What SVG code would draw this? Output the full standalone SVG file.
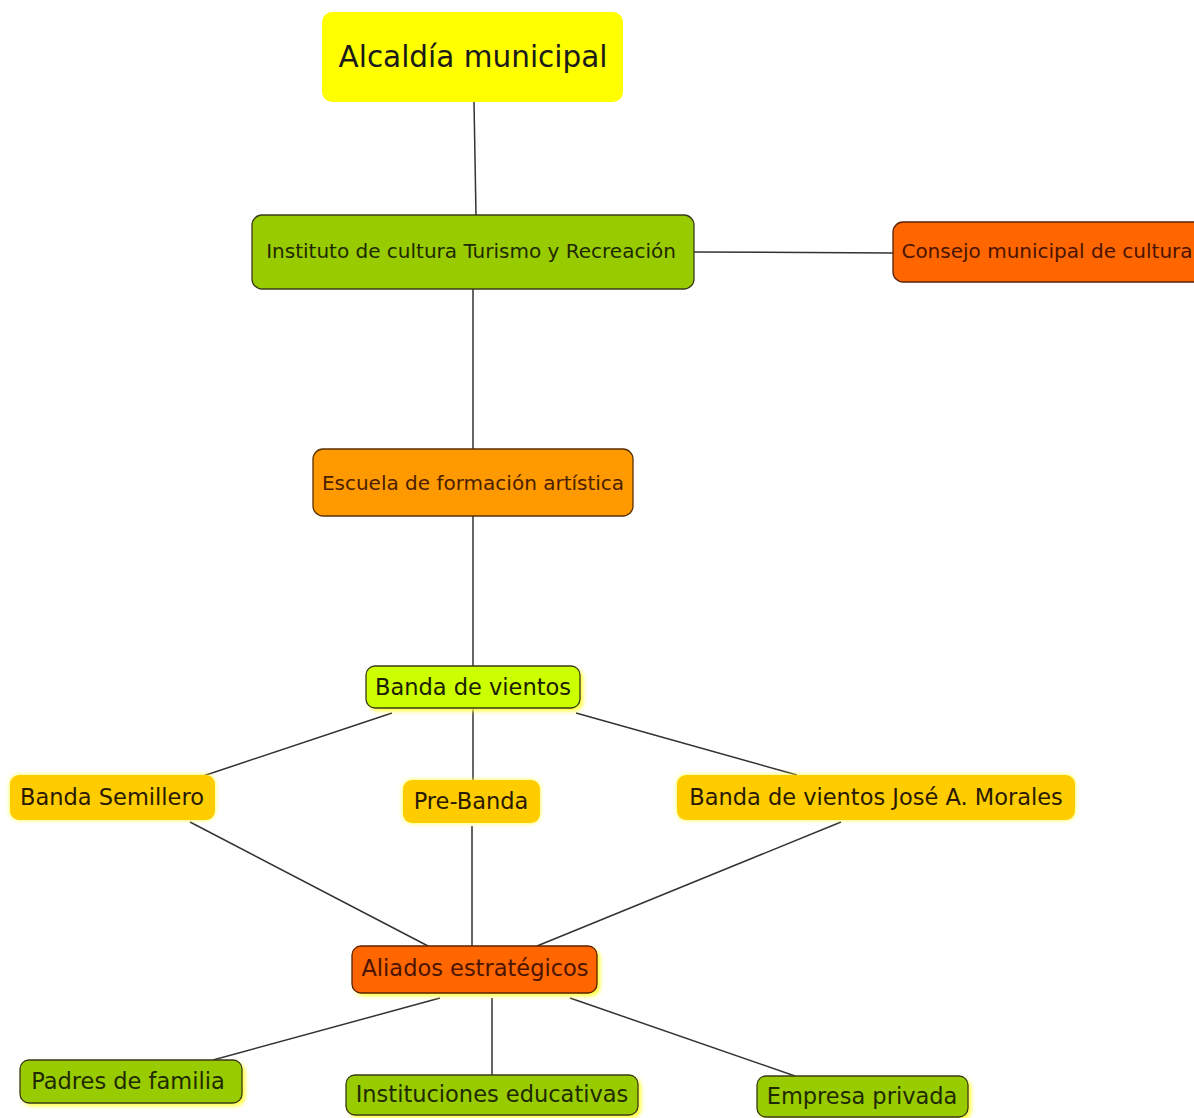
<svg xmlns="http://www.w3.org/2000/svg" width="1194" height="1118" viewBox="0 0 1194 1118">
<defs>
<filter id="glow" x="-10%" y="-20%" width="125%" height="150%">
<feGaussianBlur stdDeviation="2"/>
</filter>
<style>
text{font-family:"DejaVu Sans","Liberation Sans",sans-serif;text-anchor:middle;dominant-baseline:central}
.edge{stroke:#333;stroke-width:1.5;fill:none}
.b{stroke:#3a3a1a;stroke-width:1.3}
.sh{fill:#ffff33;filter:url(#glow)}
.m{font-size:20px}
.s{font-size:22.5px}
</style>
</defs>
<rect width="1194" height="1118" fill="#fff"/>
<g id="connectors">
<line class="edge" x1="474" y1="102" x2="476" y2="215"/>
<line class="edge" x1="694" y1="252" x2="893" y2="253"/>
<line class="edge" x1="473" y1="289" x2="473" y2="449"/>
<line class="edge" x1="473" y1="516" x2="473" y2="666"/>
<line class="edge" x1="392" y1="713" x2="203" y2="776"/>
<line class="edge" x1="473" y1="708" x2="473" y2="780"/>
<line class="edge" x1="576" y1="713" x2="797" y2="775"/>
<line class="edge" x1="190" y1="822" x2="428" y2="946"/>
<line class="edge" x1="472" y1="826" x2="472" y2="946"/>
<line class="edge" x1="841" y1="822" x2="537" y2="946"/>
<line class="edge" x1="440" y1="998" x2="213" y2="1060"/>
<line class="edge" x1="492" y1="998" x2="492" y2="1075"/>
<line class="edge" x1="570" y1="998" x2="795" y2="1076"/>
</g>
<g id="alcaldia">
<rect x="322" y="12" width="301" height="90" rx="10" fill="#ffff00"/>
<text x="473" y="57" font-size="29.5" fill="#1a1a1a">Alcaldía municipal</text>
</g>
<g id="instituto">
<rect x="252" y="215" width="442" height="74" rx="10" fill="#99cc00" class="b"/>
<text x="471" y="251" class="m" fill="#1f2a00">Instituto de cultura Turismo y Recreación</text>
</g>
<g id="consejo">
<rect x="893" y="222" width="320" height="60" rx="10" fill="#ff6600" stroke="#5a2000" stroke-width="1.3"/>
<text x="1047" y="251" class="m" fill="#4a1400">Consejo municipal de cultura</text>
</g>
<g id="escuela">
<rect x="313" y="449" width="320" height="67" rx="10" fill="#ff9900" stroke="#5a3000" stroke-width="1.3"/>
<text x="473" y="483" class="m" fill="#4a2000">Escuela de formación artística</text>
</g>
<g id="banda">
<rect x="369" y="669" width="214" height="42" rx="9" class="sh"/>
<rect x="366" y="666" width="214" height="42" rx="9" fill="#ccff00" class="b"/>
<text x="473" y="687" class="s" fill="#1a2000">Banda de vientos</text>
</g>
<g id="semillero">
<rect x="10" y="775" width="205" height="45" rx="9" class="sh"/>
<rect x="10" y="775" width="205" height="45" rx="9" fill="#ffcc00"/>
<text x="112" y="797" class="s" fill="#2a1a00">Banda Semillero</text>
</g>
<g id="prebanda">
<rect x="403" y="780" width="137" height="43" rx="9" class="sh"/>
<rect x="403" y="780" width="137" height="43" rx="9" fill="#ffcc00"/>
<text x="471" y="801" class="s" fill="#2a1a00">Pre-Banda</text>
</g>
<g id="morales">
<rect x="677" y="775" width="398" height="45" rx="9" class="sh"/>
<rect x="677" y="775" width="398" height="45" rx="9" fill="#ffcc00"/>
<text x="876" y="797" class="s" fill="#2a1a00">Banda de vientos José A. Morales</text>
</g>
<g id="aliados">
<rect x="355" y="949" width="245" height="47" rx="9" class="sh"/>
<rect x="352" y="946" width="245" height="47" rx="9" fill="#ff6600" stroke="#5a2000" stroke-width="1.3"/>
<text x="475" y="968" class="s" fill="#4a1400">Aliados estratégicos</text>
</g>
<g id="padres">
<rect x="23" y="1063" width="222" height="43" rx="9" class="sh"/>
<rect x="20" y="1060" width="222" height="43" rx="9" fill="#99cc00" class="b"/>
<text x="128" y="1081" class="s" fill="#1f2a00">Padres de familia</text>
</g>
<g id="instituciones">
<rect x="349" y="1078" width="292" height="40" rx="9" class="sh"/>
<rect x="346" y="1075" width="292" height="40" rx="9" fill="#99cc00" class="b"/>
<text x="492" y="1094" class="s" fill="#1f2a00">Instituciones educativas</text>
</g>
<g id="empresa">
<rect x="760" y="1079" width="211" height="41" rx="9" class="sh"/>
<rect x="757" y="1076" width="211" height="41" rx="9" fill="#99cc00" class="b"/>
<text x="862" y="1096" class="s" fill="#1f2a00">Empresa privada</text>
</g>
</svg>
